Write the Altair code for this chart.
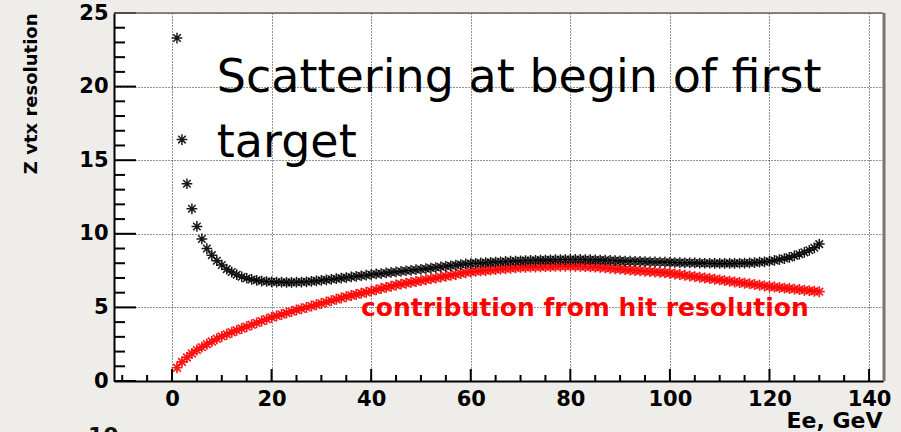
import altair as alt
import pandas as pd

# Beam energy points (GeV)
energy = [
    1, 2, 3, 4, 5, 6, 7, 8, 9, 10,
    11, 12, 13, 14, 15, 16, 17, 18, 19, 20,
    21, 22, 23, 24, 25, 26, 27, 28, 29, 30,
    31, 32, 33, 34, 35, 36, 37, 38, 39, 40,
    41, 42, 43, 44, 45, 46, 47, 48, 49, 50,
    51, 52, 53, 54, 55, 56, 57, 58, 59, 60,
    61, 62, 63, 64, 65, 66, 67, 68, 69, 70,
    71, 72, 73, 74, 75, 76, 77, 78, 79, 80,
    81, 82, 83, 84, 85, 86, 87, 88, 89, 90,
    91, 92, 93, 94, 95, 96, 97, 98, 99, 100,
    101, 102, 103, 104, 105, 106, 107, 108, 109, 110,
    111, 112, 113, 114, 115, 116, 117, 118, 119, 120,
    121, 122, 123, 124, 125, 126, 127, 128, 129, 130,
]

# Total Z vertex resolution
total_res = [
    23.3, 16.4, 13.4, 11.7, 10.5, 9.65, 9.0, 8.55, 8.17, 7.88,
    7.6, 7.4, 7.22, 7.08, 6.98, 6.9, 6.84, 6.79, 6.76, 6.74,
    6.72, 6.71, 6.7, 6.7, 6.71, 6.72, 6.74, 6.77, 6.8, 6.84,
    6.87, 6.91, 6.95, 6.99, 7.03, 7.07, 7.11, 7.15, 7.19, 7.23,
    7.27, 7.3, 7.34, 7.38, 7.41, 7.45, 7.49, 7.52, 7.56, 7.59,
    7.63, 7.67, 7.71, 7.75, 7.79, 7.83, 7.87, 7.91, 7.95, 7.98,
    8.0, 8.02, 8.04, 8.06, 8.08, 8.1, 8.12, 8.14, 8.15, 8.17,
    8.18, 8.19, 8.2, 8.21, 8.22, 8.23, 8.24, 8.25, 8.25, 8.26,
    8.26, 8.26, 8.25, 8.24, 8.23, 8.22, 8.21, 8.19, 8.18, 8.16,
    8.15, 8.14, 8.13, 8.12, 8.11, 8.1, 8.09, 8.08, 8.07, 8.06,
    8.05, 8.04, 8.03, 8.03, 8.02, 8.01, 8.0, 8.0, 7.99, 7.99,
    7.99, 7.99, 7.99, 8.0, 8.01, 8.02, 8.04, 8.07, 8.1, 8.14,
    8.19, 8.25, 8.32, 8.4, 8.5, 8.61, 8.74, 8.88, 9.05, 9.3,
]

# Contribution from hit resolution
hit_res = [
    0.9, 1.3, 1.6, 1.87, 2.1, 2.3, 2.5, 2.68, 2.87, 3.03,
    3.17, 3.31, 3.44, 3.57, 3.69, 3.82, 3.95, 4.07, 4.2, 4.32,
    4.42, 4.52, 4.62, 4.72, 4.82, 4.91, 5.0, 5.09, 5.18, 5.27,
    5.36, 5.46, 5.55, 5.64, 5.73, 5.81, 5.88, 5.96, 6.03, 6.11,
    6.19, 6.28, 6.36, 6.44, 6.52, 6.58, 6.64, 6.7, 6.76, 6.82,
    6.88, 6.94, 7.0, 7.06, 7.12, 7.18, 7.24, 7.3, 7.36, 7.42,
    7.45, 7.48, 7.51, 7.54, 7.57, 7.6, 7.63, 7.66, 7.69, 7.72,
    7.73, 7.74, 7.75, 7.76, 7.77, 7.78, 7.79, 7.8, 7.8, 7.81,
    7.8, 7.79, 7.78, 7.76, 7.74, 7.72, 7.69, 7.66, 7.63, 7.6,
    7.57, 7.54, 7.51, 7.49, 7.46, 7.43, 7.41, 7.38, 7.35, 7.32,
    7.27, 7.23, 7.18, 7.14, 7.09, 7.05, 7.0, 6.96, 6.91, 6.87,
    6.82, 6.78, 6.73, 6.69, 6.64, 6.6, 6.55, 6.51, 6.46, 6.42,
    6.38, 6.35, 6.31, 6.28, 6.24, 6.21, 6.17, 6.14, 6.1, 6.07,
]

# Axis tick positions
x_major = [0, 20, 40, 60, 80, 100, 120, 140]
x_minor = [-10, -5, 5, 10, 15, 25, 30, 35, 45, 50, 55, 65, 70, 75, 85, 90, 95,
           105, 110, 115, 125, 130, 135]
y_major = [0, 5, 10, 15, 20, 25]
y_minor = [1, 2, 3, 4, 6, 7, 8, 9, 11, 12, 13, 14, 16, 17, 18, 19, 21, 22, 23, 24]

W, H = 769, 368
X_DOMAIN = [-11.65, 142.8]
Y_DOMAIN = [0, 25]
BOLD = "DejaVu Sans"
STAR = "M-1,0L1,0M0,-1L0,1M-0.7,-0.7L0.7,0.7M-0.7,0.7L0.7,-0.7"

xs = alt.Scale(domain=X_DOMAIN, nice=False, zero=False)
ys = alt.Scale(domain=Y_DOMAIN, nice=False, zero=False)

df_total = pd.DataFrame({"E": energy, "res": total_res})
df_hit = pd.DataFrame({"E": energy, "res": hit_res})

x_axis = alt.Axis(
    values=x_major, grid=True, gridDash=[1, 2], gridColor="#000", gridOpacity=0.85,
    gridWidth=1, ticks=False, domainColor="black", domainWidth=2,
    labelFont=BOLD, labelFontWeight="bold", labelFontSize=21, labelColor="black",
    labelPadding=7, labelFlush=False, labelOverlap=False,
    title="Ee, GeV", titleFont=BOLD, titleFontWeight="bold", titleFontSize=22,
    titleColor="black", titleAnchor="end", titleAlign="right",
    titleX=W - 1, titleY=46, titleBaseline="alphabetic",
)
y_axis = alt.Axis(
    values=y_major, grid=True, gridDash=[1, 2], gridColor="#000", gridOpacity=0.85,
    gridWidth=1, ticks=False, domainColor="black", domainWidth=2,
    labelFont=BOLD, labelFontWeight="bold", labelFontSize=21, labelColor="black",
    labelPadding=6, labelFlush=False, labelOverlap=False, labelBaseline="middle",
    title="Z vtx resolution", titleFont=BOLD, titleFontWeight="bold", titleFontSize=18,
    titleColor="black", titleAngle=270, titleAlign="right", titleBaseline="middle",
    titleX=-83, titleY=0,
)

hit_pts = alt.Chart(df_hit).mark_point(
    shape=STAR, filled=False, size=120, strokeWidth=1.7, color="#ff0000", opacity=0.9
).encode(
    x=alt.X("E:Q", scale=xs, axis=x_axis),
    y=alt.Y("res:Q", scale=ys, axis=y_axis),
)

total_pts = alt.Chart(df_total).mark_point(
    shape=STAR, filled=False, size=115, strokeWidth=1.5, color="black", opacity=0.9
).encode(
    x=alt.X("E:Q", scale=xs),
    y=alt.Y("res:Q", scale=ys),
)

# Inward tick marks
xmaj = alt.Chart(pd.DataFrame({"v": x_major})).mark_rule(color="black", strokeWidth=2).encode(
    x=alt.X("v:Q", scale=xs), y=alt.value(H), y2=alt.value(H - 12))
xmin = alt.Chart(pd.DataFrame({"v": x_minor})).mark_rule(color="black", strokeWidth=2).encode(
    x=alt.X("v:Q", scale=xs), y=alt.value(H), y2=alt.value(H - 6))
ymaj = alt.Chart(pd.DataFrame({"v": y_major})).mark_rule(color="black", strokeWidth=2).encode(
    y=alt.Y("v:Q", scale=ys), x=alt.value(0), x2=alt.value(22))
ymin = alt.Chart(pd.DataFrame({"v": y_minor})).mark_rule(color="black", strokeWidth=2).encode(
    y=alt.Y("v:Q", scale=ys), x=alt.value(0), x2=alt.value(11))

# Frame: thin top edge, heavier right edge
top_edge = alt.Chart(pd.DataFrame({"k": [0]})).mark_rule(color="#666", strokeWidth=1.5).encode(
    x=alt.value(0), x2=alt.value(W), y=alt.value(0))
right_edge = alt.Chart(pd.DataFrame({"k": [0]})).mark_rule(color="#777", strokeWidth=3).encode(
    x=alt.value(W + 1), y=alt.value(0), y2=alt.value(H))

# Annotations
ann = pd.DataFrame({
    "x": [9.0, 9.0],
    "y": [19.63, 15.2],
    "t": ["Scattering at begin of first", "target"],
})
big_text = alt.Chart(ann).mark_text(
    font="Comic Sans MS, DejaVu Sans", fontSize=46, color="black",
    align="left", baseline="alphabetic",
).encode(x=alt.X("x:Q", scale=xs), y=alt.Y("y:Q", scale=ys), text="t:N")

red_lab = pd.DataFrame({"x": [37.95], "y": [4.42], "t": ["contribution from hit resolution"]})
red_text = alt.Chart(red_lab).mark_text(
    font=BOLD, fontWeight="bold", fontSize=25, color="#ff0000",
    align="left", baseline="alphabetic",
).encode(x=alt.X("x:Q", scale=xs), y=alt.Y("y:Q", scale=ys), text="t:N")

# Label of the next panel peeking in at the bottom edge
next_lab = alt.Chart(pd.DataFrame({"t": ["10"]})).mark_text(
    font=BOLD, fontWeight="bold", fontSize=22, color="#111",
    align="left", baseline="top",
).encode(x=alt.value(-26), y=alt.value(H + 45), text="t:N")

chart = alt.layer(
    hit_pts, total_pts, xmaj, xmin, ymaj, ymin, top_edge, right_edge,
    big_text, red_text, next_lab,
).properties(
    width=W, height=H,
    autosize=alt.AutoSizeParams(type="none"),
    padding={"left": 114, "top": 13, "right": 18, "bottom": 51},
    background="#efedea",
).configure_view(fill="white", strokeWidth=0)

chart.save("out.html", embed_options={"renderer": "svg", "actions": False})
